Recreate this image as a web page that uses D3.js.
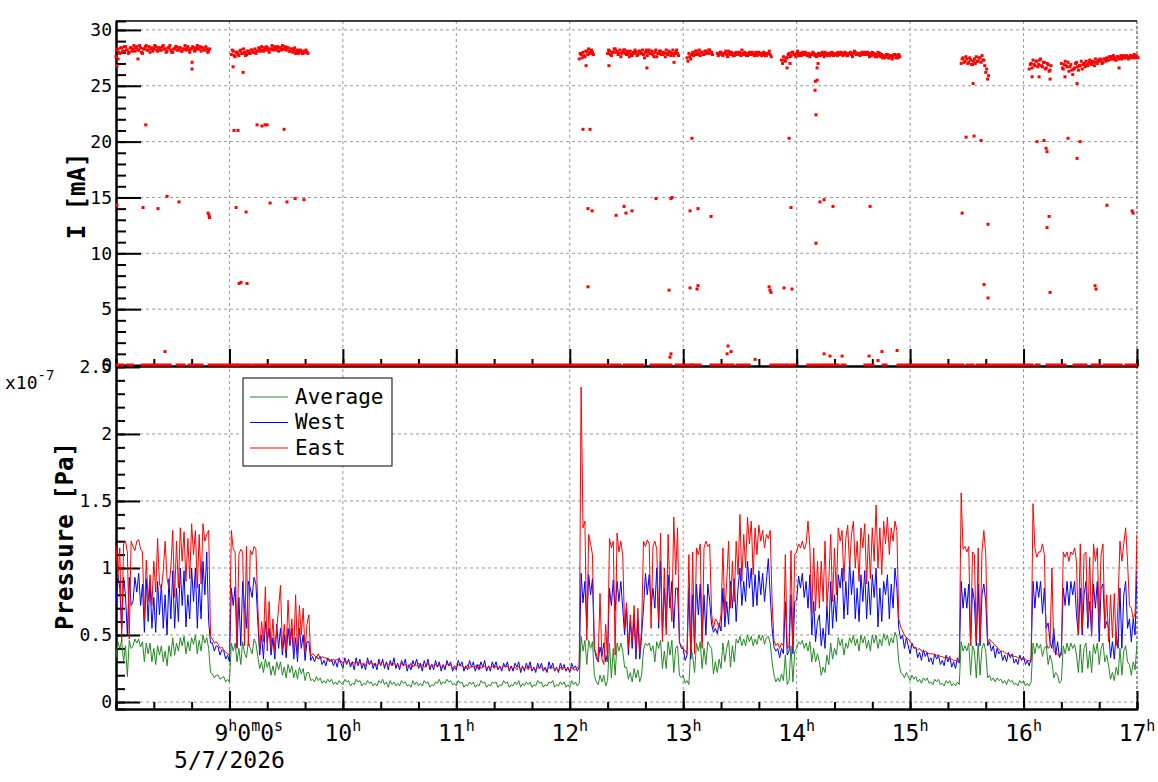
<!DOCTYPE html>
<html lang="en">
<head>
<meta charset="UTF-8">
<title>Beam current and vacuum pressure</title>
<script src="https://d3js.org/d3.v7.min.js"></script>
<style>
  body { margin: 0; background: #fff; }
  text { font-family: "DejaVu Sans Mono", monospace; fill: #000; }
  .grid line { stroke: #999; stroke-width: 1; stroke-dasharray: 3,3; }
  .trace { fill: none; stroke-width: 1; }
</style>
</head>
<body>
<div id="chart"></div>
<script>
// time axis: minutes after 08:00 on 5/7/2026
var hourTicks = [60, 120, 180, 240, 300, 360, 420, 480, 540];
var hourLabels = ["9h0m0s", "10h", "11h", "12h", "13h", "14h", "15h", "16h", "17h"];
var dateLabel = "5/7/2026";

// beam current [mA]: dense runs, one value every half minute from the start minute
var runStep = 0.5;
var runStart = [0, 61, 245, 260, 302, 318, 352, 447, 483, 500];
var runValues = [
  [27.6,28.2, 28.3,28.0, 27.9,28.4, 28.4,28.1, 28.1,28.5, 28.5,28.2, 28.2,27.9, 28.0,28.4, 28.4,28.1, 28.3,28.6,
   28.1,28.4, 28.5,28.2, 28.2,28.6, 28.4,28.0, 27.9,28.3, 28.3,28.5, 28.6,28.2, 28.2,28.5, 28.0,28.3, 28.4,28.1,
   28.3,28.6, 28.5,28.2, 28.1,28.4, 28.4,28.2, 28.2,28.5, 28.6,28.3, 28.3,28.0, 28.1,28.4, 28.4,28.6, 28.2,28.0,
   28.0,28.3, 28.3,28.5, 28.5,28.2, 28.2,28.4, 28.4,28.1, 28.1,28.3, 28.3,28.6, 28.2,28.4, 28.5,28.2, 28.0,28.3,
   28.3,28.5, 28.4,28.1, 28.2,28.4, 28.6,28.3, 28.3,28.5, 28.1,28.4, 28.4,28.2, 28.2,28.5, 28.3,28.0, 28.1,28.3],
  [27.8,28.2, 28.1,27.7, 27.6,28.0, 28.0,27.8, 27.7,28.1, 28.2,27.9, 27.9,28.3, 28.0,27.7, 27.8,28.1, 28.1,27.9,
   27.9,28.2, 28.2,28.0, 28.0,28.3, 27.9,28.1, 28.1,28.4, 28.3,28.1, 28.5,28.2, 28.1,28.4, 28.2,28.5, 28.4,28.2,
   28.0,28.3, 28.3,28.6, 28.2,28.4, 28.5,28.2, 28.3,28.5, 28.1,28.4, 28.4,28.2, 28.6,28.3, 28.3,28.5, 28.2,28.4,
   28.4,28.1, 28.1,28.3, 28.3,28.0, 28.2,28.4, 27.9,28.1, 28.2,27.9, 28.0,28.2, 28.1,27.9, 27.9,28.1, 28.0,28.2,
   28.0,27.9],
  [27.4,27.9, 27.8,27.5, 28.0,27.7, 27.6,28.1, 28.1,27.8, 28.3,28.0, 27.9,28.2, 28.0,27.8],
  [27.9,28.2, 28.1,27.8, 27.7,28.0, 28.0,28.3, 28.3,28.0, 28.1,27.8, 27.9,28.2, 27.6,27.9, 28.0,28.2, 28.2,27.9,
   27.8,28.1, 27.9,27.6, 28.1,27.8, 27.7,28.0, 27.9,28.2, 28.0,27.7, 27.8,28.1, 28.1,27.9, 27.9,28.2, 27.8,27.5,
   28.0,28.2, 27.7,28.0, 28.2,27.9, 27.9,28.1, 27.8,27.6, 28.0,28.2, 27.6,27.9, 27.9,28.1, 28.1,27.8, 27.8,28.0,
   27.9,27.6, 28.2,27.9, 27.8,28.1, 28.0,27.7, 27.9,28.2, 27.7,27.9, 28.0,28.2, 27.9,27.7],
  [27.5,27.2, 27.9,27.6, 27.4,27.8, 28.0,27.7, 27.8,28.1, 28.1,27.8, 27.9,28.2, 27.7,28.0, 28.0,27.8, 27.8,28.1,
   28.1,27.9, 27.9,28.2, 28.2,27.9, 28.0,27.8],
  [27.9,27.7, 27.8,28.0, 28.0,27.8, 27.7,27.9, 27.9,28.1, 27.8,27.6, 28.1,27.9, 27.8,28.0, 27.9,27.7, 27.7,27.9,
   28.0,27.8, 27.8,28.0, 27.9,27.7, 28.2,27.9, 27.8,28.0, 27.9,27.7, 27.7,27.9, 28.0,27.8, 27.8,28.0, 27.9,27.7,
   27.8,28.0, 27.7,27.9, 28.0,27.8, 27.9,27.7, 27.8,28.0, 27.9,27.7, 27.7,27.9, 27.9,28.1, 27.8,27.6],
  [27.3,27.0, 27.6,27.3, 27.2,27.5, 27.5,27.8, 27.9,27.6, 27.7,28.0, 28.0,27.8, 27.8,27.6, 27.9,28.1, 27.7,27.9,
   27.9,27.7, 28.0,27.8, 27.8,28.0, 27.9,27.7, 27.7,27.9, 27.6,27.8, 27.8,28.0, 27.9,27.7, 27.8,27.6, 27.7,27.9,
   27.9,27.7, 27.8,28.0, 27.8,27.6, 28.0,27.8, 27.7,27.9, 27.9,27.7, 27.8,28.0, 27.9,27.7, 27.8,27.9, 27.9,27.7,
   28.0,27.8, 27.8,28.0, 27.9,27.7, 27.8,28.0, 27.9,27.7, 27.7,27.9, 27.9,28.0, 27.8,27.6, 27.9,28.1, 28.0,27.8,
   27.8,27.9, 27.9,27.7, 27.8,28.0, 27.9,27.8, 28.0,27.8, 27.9,28.0, 27.8,27.6, 27.9,27.7, 28.0,27.8, 27.9,27.6,
   27.8,27.6, 28.0,27.7, 27.9,27.6, 27.8,27.5, 27.7,27.5, 27.6,27.8, 27.8,27.5, 27.5,27.7, 27.7,27.4, 27.6,27.8,
   27.8,27.5, 27.7,27.5, 27.8,27.6],
  [27.0,27.4, 27.5,27.1, 27.2,27.6, 27.4,27.0, 27.1,27.5, 27.3,26.9, 26.9,27.2, 27.4,27.0, 27.6,27.2, 27.2,27.5,
   27.5,27.1, 27.7,27.3, 27.3,26.8, 26.2,26.5, 25.6,25.9],
  [26.5,26.9, 27.0,26.6, 27.3,26.9, 26.8,27.2, 27.2,26.7, 26.9,27.3, 27.4,26.8, 26.7,27.1, 27.1,26.5, 26.6,27.0,
   26.9,26.3, 26.4,26.8],
  [27.0,26.6, 26.5,26.9, 27.2,26.8, 26.7,27.1, 26.3,26.7, 26.9,26.4, 26.0,26.5, 26.6,27.0, 27.1,26.7, 26.4,26.8,
   26.8,27.2, 26.5,26.9, 27.0,26.7, 27.2,26.9, 26.8,27.1, 27.3,27.0, 26.9,27.2, 27.1,26.8, 27.4,27.1, 27.0,27.3,
   27.2,27.4, 27.3,27.0, 27.1,27.4, 27.4,27.2, 27.5,27.3, 27.3,27.6, 27.6,27.4, 27.4,27.7, 27.5,27.3, 27.3,27.6,
   27.6,27.4, 27.5,27.7, 27.4,27.6, 27.7,27.5, 27.5,27.7, 27.6,27.4, 27.5,27.7, 27.7,27.5, 27.6,27.8, 27.5,27.7,
   27.6,27.5]
];
// isolated current readings [minute, mA]
var outliers = [
  [0.5,26.8],[1.1,27.4],[11.6,27.4],[40.2,27.1],[40.2,26.5],[61.9,26.7],[67.2,26.2],
  [15.7,21.5],[62.4,21.0],[64.5,21.0],[74.6,21.5],[77.2,21.4],[78.8,21.5],[79.9,21.5],[88.9,21.1],
  [0.5,14.3],[14.3,14.1],[22.2,14.0],[27.0,15.1],[33.3,14.6],[48.7,13.6],[49.2,13.4],[49.4,13.2],
  [63.5,14.1],[68.8,13.7],[81.5,14.5],[90.4,14.6],[94.7,14.9],[99.4,14.8],
  [65.1,7.3],[66.1,7.4],[69.3,7.3],[25.9,1.2],
  [248.6,26.8],[260.7,26.8],[280.8,26.6],[295.1,27.1],[247.0,21.1],[250.7,21.1],[304.6,20.3],[356.0,20.3],
  [370.2,22.4],[369.7,24.6],[369.9,25.4],[370.8,25.5],[370.8,26.6],[371.3,27.0],[354.9,26.6],[356.5,27.0],
  [249.6,14.0],[251.8,13.8],[264.5,13.4],[268.7,14.2],[269.7,13.6],[272.9,13.8],[285.6,14.9],[293.5,14.9],
  [294.1,15.0],[303.6,13.8],[307.8,14.0],[314.7,13.3],[357.0,14.1],[370.2,10.9],[372.3,14.6],[374.5,14.8],
  [379.2,14.2],[249.6,7.0],[292.5,6.7],[303.6,6.9],[307.3,6.8],[307.8,7.1],[345.4,7.0],[345.9,6.7],
  [346.4,6.5],[353.3,6.9],[357.5,6.8],[323.7,1.7],[325.3,1.2],[323.2,1.0],[338.0,0.5],[293.0,0.7],
  [293.5,1.0],[374.5,1.0],[377.6,0.8],[384.0,0.8],
  [398.8,14.2],[398.3,0.8],[403.0,0.4],[405.1,1.2],[413.1,1.3],[453.3,25.2],[449.6,20.4],[453.8,20.5],
  [457.5,20.1],[447.5,13.6],[461.2,12.6],[459.1,7.2],[461.2,6.0],[487.1,20.0],[490.8,20.1],[491.9,19.4],
  [492.4,19.1],[503.5,20.3],[508.3,18.5],[509.9,20.0],[493.5,13.3],[492.4,12.3],[524.1,14.3],[537.4,13.8],
  [537.9,13.6],[494.0,6.5],[517.8,7.1],[518.3,6.8],[484.5,25.8],[488.2,25.8],[494.0,25.6],[501.9,25.8],
  [508.3,25.2],[530.5,26.6]
];
// stretches where the current reading is 0 mA [from, to] in minutes
var zeroRuns = [[0.5,3.7],[6.3,8.5],[13.8,28.6],[32.3,36.0],[38.6,45.5],[49.2,61.4],[62.4,64.0],
  [64.5,70.9],[72.5,246.5],[248,260.2],[261.8,266.6],[268.7,278.7],[283,288.3],[289.8,293.5],
  [296.2,304.1],[304.6,308.9],[314.7,326.3],[328.4,334.8],[346.4,355.4],[357,359.1],[365.9,376.5],
  [377.6,381.9],[384,385.5],[396.1,397.7],[398.8,400.4],[405.7,407.3],[413.6,448],[450.1,453.3],
  [455.4,484.5],[486.6,488.2],[492.4,501.9],[506.7,509.9],[510.9,513],[516.2,520.4],[522.6,531.6],
  [534.2,539.5]];

// pressure [1e-7 Pa], one sample per minute from 08:00 (rows of 30 minutes)
var pStep = 1;
var avgP = [
  0.33,0.45,0.40, 0.46,0.30,0.42, 0.19,0.46,0.40, 0.42,0.47,0.44, 0.47,0.41,0.45, 0.30,0.44,0.36, 0.44,0.30,0.40, 0.28,0.42,0.35, 0.42,0.30,0.38, 0.27,0.42,0.34,
  0.48,0.35,0.44, 0.38,0.48,0.42, 0.49,0.36,0.45, 0.38,0.48,0.43, 0.50,0.36,0.46, 0.38,0.50,0.44, 0.48,0.40,0.22, 0.21,0.18,0.20, 0.20,0.17,0.18, 0.19,0.15,0.17,
  0.15,0.44,0.38, 0.44,0.30,0.40, 0.28,0.45,0.36, 0.33,0.45,0.40, 0.36,0.47,0.44, 0.34,0.25,0.30, 0.22,0.32,0.26, 0.30,0.20,0.27, 0.20,0.30,0.24, 0.30,0.20,0.26,
  0.18,0.28,0.22, 0.27,0.18,0.24, 0.17,0.26,0.21, 0.25,0.16,0.22, 0.22,0.16,0.17, 0.15,0.19,0.16, 0.18,0.14,0.16, 0.14,0.17,0.15, 0.17,0.13,0.15, 0.13,0.16,0.14,
  0.13,0.17,0.15, 0.16,0.12,0.14, 0.13,0.17,0.15, 0.16,0.12,0.14, 0.13,0.16,0.14, 0.15,0.12,0.14, 0.12,0.16,0.14, 0.17,0.13,0.15, 0.11,0.16,0.13, 0.15,0.12,0.14,
  0.12,0.16,0.14, 0.15,0.12,0.13, 0.11,0.16,0.13, 0.15,0.12,0.14, 0.12,0.16,0.14, 0.15,0.11,0.13, 0.12,0.15,0.14, 0.17,0.13,0.15, 0.14,0.17,0.15, 0.16,0.13,0.14,
  0.12,0.16,0.14, 0.15,0.11,0.13, 0.12,0.15,0.13, 0.15,0.11,0.13, 0.12,0.16,0.14, 0.15,0.11,0.13, 0.12,0.15,0.14, 0.15,0.11,0.13, 0.12,0.16,0.14, 0.15,0.11,0.13,
  0.12,0.15,0.13, 0.16,0.11,0.14, 0.12,0.15,0.13, 0.15,0.11,0.13, 0.12,0.16,0.14, 0.15,0.11,0.13, 0.12,0.15,0.14, 0.16,0.11,0.13, 0.12,0.15,0.13, 0.15,0.11,0.13,
  0.11,0.16,0.13, 0.15,0.12,0.14, 0.49,0.38,0.46, 0.28,0.46,0.40, 0.45,0.20,0.15, 0.13,0.20,0.15, 0.20,0.12,0.16, 0.44,0.18,0.40, 0.20,0.44,0.38, 0.44,0.38,0.26,
  0.26,0.17,0.22, 0.15,0.25,0.18, 0.24,0.15,0.20, 0.39,0.44,0.42, 0.44,0.38,0.42, 0.30,0.45,0.40, 0.46,0.25,0.38, 0.25,0.45,0.35, 0.46,0.22,0.40, 0.42,0.20,0.18,
  0.20,0.14,0.16, 0.13,0.40,0.35, 0.22,0.44,0.38, 0.45,0.25,0.40, 0.28,0.45,0.42, 0.40,0.21,0.30, 0.22,0.32,0.25, 0.44,0.30,0.40, 0.46,0.26,0.42, 0.30,0.47,0.44,
  0.49,0.42,0.47, 0.42,0.50,0.45, 0.49,0.42,0.47, 0.43,0.50,0.46, 0.50,0.43,0.48, 0.49,0.44,0.30, 0.20,0.15,0.18, 0.15,0.21,0.16, 0.35,0.13,0.16, 0.42,0.15,0.38,
  0.40,0.45,0.43, 0.46,0.40,0.44, 0.38,0.45,0.30, 0.40,0.30,0.36, 0.30,0.20,0.26, 0.22,0.35,0.28, 0.44,0.32,0.40, 0.35,0.48,0.42, 0.47,0.35,0.44, 0.40,0.48,0.44,
  0.50,0.42,0.47, 0.38,0.50,0.44, 0.49,0.40,0.46, 0.38,0.50,0.44, 0.50,0.40,0.47, 0.42,0.51,0.46, 0.50,0.42,0.48, 0.44,0.52,0.48, 0.30,0.22,0.21, 0.18,0.22,0.19,
  0.16,0.20,0.17, 0.19,0.15,0.17, 0.14,0.18,0.16, 0.18,0.14,0.15, 0.13,0.17,0.15, 0.17,0.13,0.14, 0.12,0.16,0.14, 0.16,0.12,0.14, 0.12,0.15,0.13, 0.45,0.38,0.42,
  0.38,0.44,0.20, 0.42,0.38,0.18, 0.44,0.20,0.40, 0.44,0.38,0.18, 0.20,0.16,0.18, 0.15,0.18,0.16, 0.17,0.14,0.16, 0.13,0.17,0.15, 0.16,0.13,0.14, 0.12,0.16,0.14,
  0.16,0.12,0.14, 0.12,0.15,0.44, 0.36,0.44,0.40, 0.43,0.34,0.40, 0.42,0.28,0.35, 0.30,0.18,0.22, 0.20,0.14,0.16, 0.42,0.36,0.44, 0.38,0.44,0.40, 0.43,0.35,0.22,
  0.43,0.22,0.40, 0.44,0.25,0.38, 0.22,0.43,0.36, 0.44,0.28,0.40, 0.44,0.30,0.35, 0.27,0.17,0.22, 0.16,0.26,0.20, 0.40,0.20,0.38, 0.42,0.30,0.28, 0.20,0.30,0.24,
  0.44
];
var westP = [
  0.72,0.95,0.85, 0.55,0.93,0.80, 0.50,0.93,0.72, 0.75,0.93,0.82, 0.96,0.72,0.88, 0.52,0.92,0.60, 0.90,0.55,0.78, 0.52,0.90,0.65, 0.88,0.55,0.80, 0.50,0.92,0.62,
  0.98,0.55,0.85, 0.60,1.00,0.72, 0.98,0.56,0.80, 0.62,1.00,0.75, 1.00,0.55,0.88, 0.62,1.05,0.80, 1.12,0.60,0.44, 0.44,0.38,0.42, 0.41,0.35,0.39, 0.38,0.32,0.35,
  0.30,0.85,0.72, 0.86,0.40,0.78, 0.42,0.90,0.70, 0.55,0.90,0.85, 0.78,0.93,0.88, 0.60,0.35,0.50, 0.32,0.60,0.45, 0.55,0.35,0.48, 0.32,0.58,0.40, 0.55,0.35,0.50,
  0.33,0.55,0.42, 0.55,0.32,0.48, 0.30,0.55,0.40, 0.50,0.31,0.45, 0.45,0.31,0.34, 0.30,0.34,0.32, 0.34,0.28,0.31, 0.27,0.33,0.30, 0.32,0.27,0.31, 0.26,0.33,0.29,
  0.25,0.33,0.28, 0.32,0.26,0.30, 0.24,0.33,0.27, 0.32,0.25,0.29, 0.24,0.33,0.28, 0.31,0.25,0.29, 0.24,0.32,0.27, 0.32,0.25,0.30, 0.24,0.31,0.27, 0.33,0.25,0.29,
  0.24,0.31,0.27, 0.32,0.23,0.28, 0.24,0.31,0.27, 0.32,0.25,0.29, 0.23,0.31,0.26, 0.32,0.24,0.28, 0.24,0.31,0.26, 0.30,0.23,0.28, 0.24,0.31,0.27, 0.30,0.23,0.26,
  0.24,0.31,0.27, 0.30,0.23,0.27, 0.24,0.31,0.26, 0.30,0.23,0.28, 0.24,0.30,0.26, 0.31,0.23,0.27, 0.23,0.30,0.26, 0.30,0.24,0.27, 0.23,0.29,0.26, 0.30,0.23,0.27,
  0.23,0.29,0.26, 0.30,0.22,0.27, 0.23,0.29,0.25, 0.30,0.23,0.26, 0.22,0.29,0.25, 0.29,0.23,0.26, 0.22,0.30,0.25, 0.29,0.23,0.26, 0.22,0.29,0.25, 0.28,0.23,0.26,
  0.22,0.29,0.25, 0.27,0.23,0.26, 0.96,0.74,0.90, 0.55,0.95,0.80, 0.92,0.40,0.33, 0.30,0.41,0.34, 0.44,0.30,0.36, 0.85,0.72,0.91, 0.68,0.90,0.75, 0.90,0.70,0.50,
  0.70,0.35,0.60, 0.40,0.65,0.32, 0.62,0.32,0.50, 0.70,0.96,0.80, 0.95,0.72,0.85, 0.70,1.00,0.55, 1.05,0.50,0.85, 0.55,0.95,0.70, 0.90,0.55,0.85, 0.85,0.45,0.40,
  0.40,0.31,0.35, 0.85,0.32,0.80, 0.40,0.88,0.65, 0.88,0.45,0.80, 0.50,0.88,0.75, 0.58,0.52,0.55, 0.51,0.59,0.53, 0.85,0.56,0.75, 0.58,0.90,0.70, 0.92,0.60,0.85,
  1.00,0.72,0.90, 0.75,1.05,0.85, 1.00,0.71,0.95, 0.72,0.98,0.80, 0.96,0.75,0.90, 1.07,0.80,0.55, 0.41,0.38,0.40, 0.33,0.40,0.36, 0.75,0.35,0.38, 0.80,0.36,0.75,
  0.76,0.94,0.85, 0.96,0.78,0.90, 0.70,0.95,0.50, 0.75,0.45,0.60, 0.65,0.42,0.55, 0.40,0.72,0.50, 0.90,0.55,0.80, 0.60,0.95,0.85, 1.00,0.62,0.90, 0.65,1.05,0.80,
  0.98,0.62,0.85, 0.60,0.95,0.75, 0.98,0.62,0.90, 0.65,0.95,0.78, 1.00,0.56,0.85, 0.60,0.90,0.80, 0.95,0.62,0.88, 0.70,1.00,0.85, 0.55,0.47,0.50, 0.40,0.48,0.42,
  0.36,0.44,0.40, 0.41,0.33,0.37, 0.31,0.39,0.34, 0.37,0.30,0.33, 0.28,0.36,0.32, 0.35,0.28,0.31, 0.27,0.35,0.30, 0.34,0.26,0.30, 0.25,0.33,0.29, 0.90,0.70,0.85,
  0.70,0.88,0.42, 0.85,0.75,0.42, 0.88,0.42,0.80, 0.88,0.75,0.42, 0.45,0.38,0.42, 0.33,0.40,0.36, 0.38,0.31,0.35, 0.30,0.37,0.33, 0.36,0.29,0.32, 0.28,0.35,0.31,
  0.34,0.28,0.31, 0.27,0.33,0.90, 0.70,0.90,0.78, 0.90,0.66,0.85, 0.55,0.59,0.45, 0.40,0.55,0.35, 0.45,0.33,0.38, 0.85,0.72,0.90, 0.72,0.90,0.80, 0.90,0.65,0.50,
  0.85,0.50,0.80, 0.90,0.55,0.75, 0.50,0.88,0.70, 0.90,0.45,0.85, 0.88,0.55,0.60, 0.55,0.33,0.45, 0.32,0.52,0.40, 0.85,0.40,0.80, 0.90,0.55,0.62, 0.45,0.62,0.50,
  0.98
];
var eastP = [
  1.17,0.92,1.15, 0.45,1.18,1.20, 1.12,0.47,1.20, 1.16,1.13,1.20, 1.21,1.14,1.12, 0.62,1.06,0.75, 0.95,0.72,1.05, 0.82,1.22,0.88, 0.84,0.98,1.20, 0.92,0.85,1.00,
  1.28,0.78,1.20, 0.85,1.30,1.05, 1.27,0.90,1.22, 0.92,1.33,1.10, 1.28,0.85,1.25, 0.88,1.33,1.20, 1.25,1.28,0.49, 0.47,0.44,0.45, 0.43,0.40,0.41, 0.39,0.37,0.36,
  0.35,1.28,1.14, 1.12,0.41,1.10, 1.14,1.12,0.42, 1.16,0.42,1.13, 1.10,1.16,1.14, 0.72,0.38,0.60, 0.45,0.86,0.38, 0.75,0.40,0.62, 0.38,0.55,0.70, 0.87,0.40,0.58,
  0.38,0.76,0.45, 0.62,0.38,0.80, 0.36,0.72,0.50, 0.70,0.37,0.58, 0.65,0.34,0.36, 0.35,0.33,0.36, 0.32,0.34,0.33, 0.33,0.31,0.32, 0.30,0.32,0.31, 0.32,0.30,0.31,
  0.29,0.31,0.30, 0.31,0.28,0.30, 0.29,0.30,0.28, 0.30,0.28,0.29, 0.27,0.30,0.28, 0.30,0.28,0.29, 0.27,0.29,0.28, 0.30,0.27,0.29, 0.28,0.29,0.27, 0.29,0.27,0.28,
  0.26,0.29,0.27, 0.28,0.27,0.26, 0.29,0.26,0.28, 0.27,0.29,0.26, 0.28,0.26,0.27, 0.29,0.26,0.28, 0.27,0.28,0.26, 0.28,0.26,0.27, 0.26,0.29,0.27, 0.28,0.25,0.27,
  0.26,0.28,0.27, 0.27,0.26,0.25, 0.28,0.25,0.27, 0.26,0.27,0.25, 0.28,0.25,0.26, 0.27,0.25,0.26, 0.26,0.27,0.25, 0.27,0.25,0.26, 0.25,0.27,0.26, 0.27,0.24,0.26,
  0.25,0.26,0.24, 0.27,0.24,0.26, 0.25,0.26,0.24, 0.27,0.24,0.25, 0.24,0.26,0.25, 0.26,0.25,0.24, 0.24,0.26,0.25, 0.26,0.24,0.25, 0.23,0.26,0.24, 0.26,0.24,0.25,
  0.23,0.26,0.24, 0.24,0.26,0.25, 2.35,1.30,1.35, 0.46,1.25,1.18, 1.10,0.40,0.36, 0.30,0.81,0.32, 0.28,0.58,0.30, 1.22,1.15,1.20, 0.35,1.26,1.12, 1.20,1.10,0.55,
  0.74,0.40,0.65, 0.45,0.72,0.38, 0.70,0.36,0.55, 1.20,1.16,1.21, 1.18,0.55,1.16, 1.20,1.14,0.60, 1.26,0.45,1.00, 0.50,1.25,0.80, 0.60,1.38,0.95, 1.30,0.44,0.42,
  0.40,0.38,0.36, 1.10,0.36,1.12, 0.36,1.15,1.10, 1.18,0.40,1.15, 1.20,1.16,1.18, 0.66,0.55,0.62, 0.60,0.55,0.66, 1.15,0.65,0.90, 1.20,0.70,1.05, 0.75,1.20,0.95,
  1.40,0.90,1.25, 1.00,1.38,1.18, 1.35,0.95,1.30, 1.10,1.32,1.20, 1.28,1.15,1.25, 1.22,1.28,0.75, 0.46,0.42,0.44, 0.40,0.44,0.42, 1.10,0.40,0.42, 1.13,0.40,1.10,
  1.12,1.18,1.15, 1.20,1.14,1.18, 1.35,1.15,0.66, 1.15,0.68,1.05, 0.70,1.05,0.75, 1.20,0.72,0.90, 1.25,0.75,1.15, 0.80,1.30,1.20, 1.28,0.90,1.22, 1.32,1.00,1.25,
  1.35,1.00,1.20, 0.90,1.30,1.15, 1.33,0.88,1.25, 0.92,1.30,1.05, 1.47,1.00,1.30, 0.95,1.35,1.18, 1.38,1.10,1.30, 1.20,1.35,1.28, 0.62,0.56,0.53, 0.50,0.48,0.47,
  0.45,0.43,0.41, 0.40,0.39,0.40, 0.38,0.37,0.38, 0.37,0.36,0.36, 0.36,0.35,0.35, 0.35,0.34,0.34, 0.33,0.34,0.33, 0.32,0.32,0.31, 0.31,0.30,0.31, 1.56,1.14,1.16,
  1.12,1.16,0.42, 1.12,1.10,0.45, 1.15,0.44,1.12, 1.28,1.10,0.44, 0.47,0.45,0.44, 0.42,0.41,0.39, 0.38,0.38,0.37, 0.36,0.36,0.35, 0.35,0.34,0.34, 0.33,0.33,0.32,
  0.32,0.32,0.31, 0.31,0.30,1.48, 1.15,1.08,1.12, 1.12,1.18,1.10, 0.44,0.40,0.42, 1.00,0.38,0.36, 0.36,0.34,0.35, 1.12,1.08,1.12, 1.05,1.12,1.10, 1.15,1.05,0.50,
  1.18,0.55,1.10, 1.12,0.60,1.08, 0.49,1.18,1.05, 1.15,0.60,1.10, 1.18,0.55,0.80, 0.45,0.80,0.48, 0.81,0.42,0.75, 1.20,1.05,1.18, 1.30,1.05,0.72, 0.70,0.62,0.66,
  1.25
];
var seriesNames = ["Average", "West", "East"];
var seriesColors = ["#238b23", "#0000ff", "#ff0000"];

var svg = d3.select("#chart").append("svg")
    .attr("width", 1158)
    .attr("height", 782);

var left = 116, right = 1137;
var x = d3.scaleLinear().domain([0, 540]).range([left, right]);
var yI = d3.scaleLinear().domain([-0.09, 30.8]).range([366, 21]);
var yP = d3.scaleLinear().domain([-0.052, 2.507]).range([709, 366]);

// grid
var grid = svg.append("g").attr("class", "grid");
hourTicks.slice(0, -1).forEach(function(t) {
    grid.append("line").attr("x1", x(t)).attr("x2", x(t)).attr("y1", 21).attr("y2", 709);
});
d3.range(5, 31, 5).forEach(function(v) {
    grid.append("line").attr("x1", left).attr("x2", right).attr("y1", yI(v)).attr("y2", yI(v));
});
[0, 0.5, 1, 1.5, 2].forEach(function(v) {
    grid.append("line").attr("x1", left).attr("x2", right).attr("y1", yP(v)).attr("y2", yP(v));
});
svg.append("line").attr("x1", right).attr("x2", right).attr("y1", 21).attr("y2", 709)
    .attr("stroke", "#333").attr("stroke-dasharray", "3,2");
svg.append("line").attr("x1", left).attr("x2", right).attr("y1", 21).attr("y2", 21)
    .attr("stroke", "#000").attr("stroke-width", 1.5);

// axes, ROOT style ticks pointing inwards
function drawAxis(axis, tx, ty, fontSize) {
    var g = svg.append("g").attr("transform", "translate(" + tx + "," + ty + ")").call(axis);
    g.attr("font-family", "DejaVu Sans Mono").attr("font-size", fontSize || 18);
    g.selectAll("line").attr("stroke-width", 2);
    g.select(".domain").attr("stroke-width", 2);
    return g;
}
drawAxis(d3.axisLeft(yI).tickValues(d3.range(0, 31, 5)).tickSizeInner(-25).tickSizeOuter(0).tickPadding(4), left, 0);
drawAxis(d3.axisLeft(yI).tickValues(d3.range(0, 31)).tickSize(-10).tickFormat(""), left, 0);
drawAxis(d3.axisLeft(yP).tickValues([0, 0.5, 1, 1.5, 2, 2.5]).tickSizeInner(-24).tickSizeOuter(0).tickPadding(4)
    .tickFormat(function(d) { return String(d); }), left, 0);
drawAxis(d3.axisLeft(yP).tickValues(d3.range(0, 26).map(function(i) { return i / 10; })).tickSize(-9).tickFormat(""), left, 0);
[366, 709].forEach(function(ay) {
    drawAxis(d3.axisBottom(x).tickValues(hourTicks).tickSizeInner(ay === 366 ? -17 : -18).tickSizeOuter(0).tickFormat(""), 0, ay);
    drawAxis(d3.axisBottom(x).tickValues(d3.range(0, 541, 20)).tickSize(-7).tickFormat(""), 0, ay);
});

// time labels with superscript units
hourLabels.forEach(function(lab, i) {
    var t = svg.append("text").attr("y", 741).attr("font-size", 23);
    if (i === 0) t.attr("x", x(hourTicks[i]) - 15).attr("text-anchor", "start");
    else t.attr("x", x(hourTicks[i])).attr("text-anchor", "middle");
    var up = false;
    lab.match(/\d+|[a-z]/g).forEach(function(p) {
        var sup = /[a-z]/.test(p);
        var ts = t.append("tspan").text(p);
        if (sup) {
            ts.attr("font-size", 15);
            if (!up) { ts.attr("dy", -10); up = true; }
        } else if (up) { ts.attr("dy", 10); up = false; }
    });
});
svg.append("text").attr("x", x(60)).attr("y", 768).attr("font-size", 23)
    .attr("text-anchor", "middle").text(dateLabel);

// axis titles
svg.append("text").attr("transform", "translate(85,196) rotate(-90)").attr("text-anchor", "middle")
    .attr("font-size", 24).attr("font-weight", "bold").text("I [mA]");
svg.append("text").attr("transform", "translate(73,536) rotate(-90)").attr("text-anchor", "middle")
    .attr("font-size", 24).attr("font-weight", "bold").text("Pressure [Pa]");
var expo = svg.append("text").attr("x", 5).attr("y", 389).attr("font-size", 18);
expo.append("tspan").text("x10");
expo.append("tspan").attr("dy", -9).attr("font-size", 14).text("-7");

// current markers
var cur = svg.append("g").attr("fill", "#ff0000");
cur.selectAll("rect.zero").data(zeroRuns).join("rect").attr("class", "zero")
    .attr("x", function(d) { return x(d[0]) - 1.5; })
    .attr("width", function(d) { return x(d[1]) - x(d[0]) + 3; })
    .attr("y", yI(0) - 1.5).attr("height", 3);
runValues.forEach(function(vals, k) {
    cur.selectAll(null).data(vals).join("rect")
        .attr("x", function(d, i) { return x(runStart[k] + i * runStep) - 1.5; })
        .attr("y", function(d) { return yI(d) - 1.5; })
        .attr("width", 3).attr("height", 3);
});
cur.selectAll(null).data(outliers).join("rect")
    .attr("x", function(d) { return x(d[0]) - 1.5; })
    .attr("y", function(d) { return yI(d[1]) - 1.5; })
    .attr("width", 3).attr("height", 3);

// pressure traces
svg.append("clipPath").attr("id", "pclip").append("rect")
    .attr("x", left).attr("y", 366).attr("width", right - left).attr("height", 343);
var pline = d3.line()
    .x(function(d, i) { return x(i * pStep); })
    .y(function(d) { return yP(d); });
[avgP, westP, eastP].forEach(function(s, k) {
    svg.append("path").datum(s).attr("class", "trace").attr("clip-path", "url(#pclip)")
        .attr("stroke", seriesColors[k]).attr("d", pline);
});

// legend
var leg = svg.append("g");
leg.append("rect").attr("x", 243).attr("y", 378).attr("width", 149).attr("height", 88)
    .attr("fill", "#fff").attr("stroke", "#000");
seriesNames.forEach(function(n, i) {
    var ly = 397 + i * 25.5;
    leg.append("line").attr("x1", 250).attr("x2", 288).attr("y1", ly).attr("y2", ly)
        .attr("stroke", seriesColors[i]);
    leg.append("text").attr("x", 295).attr("y", ly + 6.5).attr("font-size", 21).text(n);
});
</script>
</body>
</html>
